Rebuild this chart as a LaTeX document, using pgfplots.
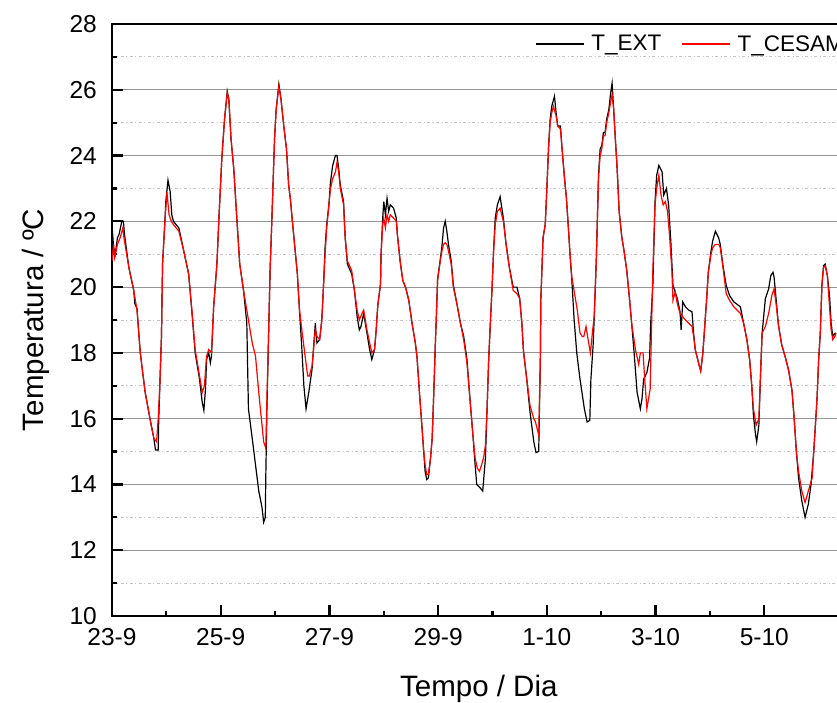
\documentclass[border=0pt]{standalone}
\usepackage{pgfplots}
\pgfplotsset{compat=1.18}
\usepackage{fontspec}
\setmainfont{Liberation Sans}
\definecolor{majgrid}{RGB}{150,150,150}
\definecolor{mingrid}{RGB}{195,195,195}
\begin{document}
\begin{tikzpicture}
\begin{axis}[
  at={(0pt,0pt)}, anchor=south west,
  scale only axis, width=761pt, height=592pt,
  xmin=0, xmax=14, ymin=10, ymax=28,
  xtick={0,2,...,12},
  xticklabels={23-9,25-9,27-9,29-9,1-10,3-10,5-10},
  minor x tick num=1,
  ytick={10,12,...,28},
  minor y tick num=1,
  tick pos=left,
  tick align=inside,
  major tick length=11pt, minor tick length=5.5pt,
  major tick style={black, line width=2.2pt},
  minor tick style={black, line width=2.2pt},
  axis line style={black, line width=2.7pt},
  ymajorgrids, yminorgrids,
  major grid style={majgrid, line width=1.2pt, solid},
  minor grid style={mingrid, line width=1pt, dash pattern=on 3pt off 2.5pt on 1pt off 2.5pt},
  /pgf/number format/assume math mode=true,
  ticklabel style={font=\fontsize{24.5}{28}\selectfont, inner sep=0pt},
  xticklabel style={anchor=north, yshift=-12pt},
  yticklabel style={anchor=east, xshift=-15pt},
  xlabel={Tempo / Dia},
  ylabel={Temperatura / ºC},
  label style={font=\fontsize{29.5}{34}\selectfont},
  xlabel style={at={(axis description cs:0.482,0)}, anchor=base, yshift=-80pt},
  ylabel style={at={(axis description cs:-0.0894,0.5)}, anchor=base, rotate=0},
  legend columns=2,
  legend style={at={(axis description cs:0.5558,0.9662)}, anchor=west, draw=none, fill=none,
    inner sep=0pt, font=\fontsize{22.5}{26}\selectfont,
    nodes={inner sep=0pt},
    /tikz/every odd column/.style={column sep=7pt},
    /tikz/every even column/.style={column sep=20pt}},
  legend image code/.code={\draw[#1] (0pt,0pt) -- (48pt,0pt);},
]
\addplot[black, line width=1.2pt] coordinates {
(0,21.9)(0.03,21.2)(0.06,21.0)(0.10,21.5)(0.13,21.6)(0.18,22.0)(0.21,22.0)(0.23,21.6)
(0.31,20.6)(0.40,19.9)(0.42,19.5)(0.46,19.35)(0.52,18.0)(0.61,16.8)(0.71,15.9)(0.77,15.4)
(0.80,15.05)(0.85,15.05)(0.86,16.0)(0.88,17.0)(0.91,18.5)(0.93,20.7)(0.97,21.9)(0.99,22.6)
(1.03,23.25)(1.07,22.9)(1.10,22.2)(1.13,22.0)(1.23,21.8)(1.32,21.1)(1.41,20.4)(1.47,19.25)
(1.53,18.0)(1.61,17.2)(1.66,16.5)(1.69,16.25)(1.72,16.9)(1.74,17.8)(1.78,18.0)(1.81,17.7)
(1.83,17.9)(1.87,19.4)(1.93,20.7)(1.97,22.2)(2.02,23.9)(2.07,25.1)(2.12,25.95)(2.15,25.7)
(2.19,24.5)(2.24,23.6)(2.30,22.0)(2.35,20.7)(2.42,19.9)(2.48,18.9)(2.51,16.3)(2.58,15.4)
(2.61,15.0)(2.64,14.6)(2.70,13.8)(2.76,13.3)(2.79,12.85)(2.82,13.0)(2.83,14.3)(2.85,16.3)
(2.88,18.5)(2.91,20.6)(2.94,22.0)(2.99,24.5)(3.02,25.4)(3.07,26.17)(3.11,25.7)(3.16,24.9)
(3.21,24.2)(3.25,23.1)(3.28,22.7)(3.33,21.8)(3.37,21.1)(3.41,20.4)(3.45,19.25)(3.49,18.2)
(3.53,17.0)(3.57,16.3)(3.62,16.8)(3.68,17.5)(3.74,18.9)(3.77,18.3)(3.82,18.4)(3.86,19.0)
(3.89,20.0)(3.92,21.2)(3.95,21.9)(3.99,22.5)(4.02,23.2)(4.06,23.7)(4.11,24.0)(4.14,24.0)
(4.17,23.6)(4.20,23.1)(4.26,22.6)(4.29,21.5)(4.33,20.7)(4.41,20.4)(4.46,19.9)(4.51,19.1)
(4.55,18.7)(4.58,18.8)(4.63,19.2)(4.69,18.6)(4.74,18.1)(4.78,17.8)(4.83,18.1)(4.86,18.7)
(4.89,19.45)(4.94,20.1)(4.95,21.0)(4.98,22.1)(5.00,22.6)(5.03,22.2)(5.06,22.7)(5.09,22.3)
(5.12,22.5)(5.18,22.4)(5.23,22.1)(5.25,21.6)(5.30,20.8)(5.35,20.2)(5.40,20.0)(5.46,19.6)
(5.52,18.9)(5.58,18.3)(5.61,17.9)(5.66,16.7)(5.70,15.8)(5.73,15.1)(5.76,14.4)(5.79,14.15)
(5.82,14.2)(5.86,14.8)(5.89,15.4)(5.92,16.8)(5.95,18.35)(5.97,19.25)(5.99,20.25)(6.04,20.85)
(6.07,21.25)(6.10,21.8)(6.13,22.0)(6.16,21.7)(6.19,21.3)(6.24,20.8)(6.28,20.05)(6.35,19.45)
(6.41,18.9)(6.47,18.5)(6.53,17.8)(6.59,16.5)(6.64,15.5)(6.68,14.6)(6.71,14.0)(6.77,13.9)
(6.82,13.8)(6.87,14.8)(6.90,16.3)(6.93,17.8)(6.96,18.9)(6.99,19.9)(7.02,21.1)(7.05,22.1)
(7.09,22.5)(7.14,22.75)(7.20,22.1)(7.25,21.3)(7.31,20.6)(7.38,20.0)(7.45,20.0)(7.50,19.65)
(7.54,18.9)(7.57,18.05)(7.63,17.2)(7.69,16.2)(7.76,15.3)(7.80,14.97)(7.85,15.0)(7.88,17.8)
(7.89,19.65)(7.93,21.5)(7.97,21.9)(8.00,23.0)(8.03,24.2)(8.06,25.1)(8.09,25.5)(8.14,25.8)
(8.17,25.3)(8.20,24.9)(8.25,24.9)(8.28,24.2)(8.32,23.4)(8.36,22.7)(8.40,21.7)(8.43,20.9)
(8.46,20.2)(8.50,19.05)(8.55,18.0)(8.61,17.2)(8.69,16.3)(8.74,15.9)(8.79,15.95)(8.81,17.2)
(8.85,18.2)(8.87,19.0)(8.91,20.85)(8.95,23.4)(8.98,24.2)(9.01,24.3)(9.04,24.7)(9.07,24.7)
(9.10,25.1)(9.14,25.4)(9.17,25.85)(9.20,26.2)(9.23,25.4)(9.26,24.5)(9.29,23.7)(9.33,22.3)
(9.38,21.5)(9.42,21.1)(9.47,20.5)(9.52,19.65)(9.56,18.9)(9.61,17.9)(9.66,16.8)(9.72,16.3)
(9.75,16.6)(9.78,17.2)(9.84,17.4)(9.89,17.85)(9.91,18.9)(9.95,20.05)(9.99,22.6)(10.02,23.4)
(10.06,23.7)(10.12,23.5)(10.15,22.8)(10.20,23.0)(10.24,22.5)(10.28,21.4)(10.32,20.05)(10.36,19.85)
(10.40,19.65)(10.45,19.25)(10.47,18.7)(10.50,19.55)(10.55,19.4)(10.61,19.3)(10.67,19.25)(10.70,18.6)
(10.73,18.1)(10.79,17.7)(10.83,17.45)(10.87,18.0)(10.90,18.7)(10.94,19.65)(10.97,20.45)(11.02,21.1)
(11.05,21.4)(11.10,21.7)(11.16,21.5)(11.19,21.3)(11.24,20.65)(11.30,20.05)(11.36,19.75)(11.44,19.55)
(11.56,19.4)(11.62,18.9)(11.68,18.4)(11.73,17.8)(11.77,17.0)(11.80,16.1)(11.84,15.5)(11.86,15.3)
(11.90,15.8)(11.93,17.3)(11.96,18.6)(12.02,19.65)(12.08,19.95)(12.12,20.35)(12.16,20.45)(12.18,20.3)
(12.20,19.95)(12.26,18.85)(12.32,18.25)(12.39,17.85)(12.45,17.45)(12.51,16.85)(12.55,16.0)(12.59,15.0)
(12.63,14.2)(12.69,13.5)(12.75,13.0)(12.81,13.4)(12.86,14.0)(12.91,15.0)(12.94,15.8)(12.97,16.6)
(13.00,17.8)(13.03,18.6)(13.06,20.05)(13.09,20.65)(13.12,20.7)(13.16,20.35)(13.20,19.75)(13.23,18.9)
(13.26,18.5)(13.30,18.6)(13.32,18.6)
};
\addlegendentry{T\_EXT}
\addplot[red, line width=1.2pt] coordinates {
(0,20.8)(0.03,21.3)(0.05,20.9)(0.10,21.3)(0.15,21.5)(0.20,21.8)(0.22,21.5)(0.31,20.6)
(0.40,19.9)(0.46,19.3)(0.52,18.0)(0.61,16.8)(0.71,15.9)(0.77,15.4)(0.82,15.3)(0.85,16.0)
(0.88,17.0)(0.91,18.5)(0.93,20.7)(0.97,21.9)(1.01,22.9)(1.05,22.2)(1.09,22.0)(1.13,21.9)
(1.23,21.7)(1.32,21.1)(1.41,20.4)(1.47,19.3)(1.53,18.1)(1.61,17.3)(1.66,16.8)(1.70,17.0)
(1.74,17.9)(1.78,18.1)(1.83,18.0)(1.87,19.4)(1.93,20.7)(1.97,22.2)(2.02,23.9)(2.07,25.1)
(2.12,25.9)(2.15,25.7)(2.19,24.5)(2.24,23.6)(2.30,22.0)(2.35,20.7)(2.42,19.9)(2.48,19.3)
(2.58,18.3)(2.64,17.9)(2.70,16.8)(2.76,15.8)(2.79,15.3)(2.83,15.1)(2.85,16.6)(2.88,18.5)
(2.91,20.6)(2.94,22.0)(2.99,24.5)(3.02,25.4)(3.07,26.1)(3.11,25.7)(3.16,24.9)(3.21,24.2)
(3.25,23.1)(3.28,22.7)(3.33,21.8)(3.37,21.1)(3.41,20.4)(3.45,19.3)(3.50,18.6)(3.56,17.8)
(3.60,17.3)(3.63,17.3)(3.68,17.6)(3.74,18.7)(3.77,18.5)(3.82,18.4)(3.86,19.0)(3.89,20.0)
(3.92,21.0)(3.95,21.8)(4.02,23.0)(4.06,23.3)(4.11,23.5)(4.14,23.8)(4.17,23.5)(4.20,23.0)
(4.26,22.5)(4.29,21.5)(4.33,20.8)(4.41,20.5)(4.46,19.9)(4.51,19.3)(4.55,19.0)(4.60,19.2)
(4.63,19.3)(4.69,18.7)(4.74,18.3)(4.78,18.0)(4.83,18.1)(4.86,18.7)(4.89,19.45)(4.94,20.1)
(4.95,21.0)(4.98,21.9)(5.00,22.1)(5.03,21.8)(5.06,22.2)(5.09,22.0)(5.12,22.2)(5.18,22.1)
(5.23,22.0)(5.25,21.6)(5.30,20.8)(5.35,20.2)(5.40,20.0)(5.46,19.6)(5.52,18.9)(5.58,18.3)
(5.61,17.9)(5.66,16.7)(5.70,15.8)(5.73,15.1)(5.76,14.6)(5.79,14.3)(5.82,14.3)(5.86,14.8)
(5.89,15.4)(5.92,16.8)(5.95,18.35)(5.97,19.25)(5.99,20.2)(6.04,20.8)(6.07,21.1)(6.10,21.3)
(6.13,21.35)(6.16,21.3)(6.19,21.1)(6.24,20.7)(6.28,20.0)(6.35,19.45)(6.41,18.9)(6.47,18.4)
(6.53,17.7)(6.59,16.5)(6.64,15.5)(6.68,14.8)(6.72,14.5)(6.76,14.4)(6.80,14.6)(6.84,14.85)
(6.87,15.2)(6.90,16.3)(6.93,17.8)(6.96,18.9)(6.99,19.9)(7.02,21.1)(7.05,21.9)(7.09,22.3)
(7.14,22.4)(7.20,22.0)(7.25,21.3)(7.31,20.6)(7.38,19.9)(7.45,19.8)(7.50,19.65)(7.54,18.9)
(7.57,18.05)(7.63,17.2)(7.69,16.4)(7.76,16.0)(7.79,15.9)(7.85,15.5)(7.88,17.8)(7.89,19.65)
(7.93,21.5)(7.97,21.9)(8.00,23.0)(8.03,24.2)(8.06,25.0)(8.09,25.3)(8.12,25.5)(8.17,25.2)
(8.20,24.9)(8.25,24.8)(8.28,24.2)(8.32,23.4)(8.36,22.7)(8.40,21.7)(8.43,20.9)(8.46,20.3)
(8.50,19.9)(8.56,19.3)(8.61,18.6)(8.65,18.5)(8.68,18.5)(8.72,18.8)(8.75,18.5)(8.80,18.0)
(8.85,18.8)(8.87,19.1)(8.91,20.85)(8.95,23.3)(8.98,24.0)(9.01,24.2)(9.04,24.6)(9.07,24.6)
(9.10,25.0)(9.14,25.3)(9.17,25.6)(9.20,25.85)(9.23,25.4)(9.26,24.5)(9.29,23.7)(9.33,22.3)
(9.38,21.5)(9.42,21.1)(9.47,20.5)(9.52,19.65)(9.56,18.9)(9.63,18.1)(9.69,17.65)(9.72,18.0)
(9.77,18.0)(9.80,17.2)(9.84,16.3)(9.90,16.9)(9.95,20.5)(9.99,22.5)(10.02,23.0)(10.06,23.4)
(10.10,22.8)(10.14,22.5)(10.18,22.6)(10.22,22.3)(10.26,21.5)(10.30,20.5)(10.32,19.6)(10.36,19.85)
(10.40,19.5)(10.45,19.2)(10.50,19.1)(10.55,19.0)(10.61,18.9)(10.67,18.8)(10.70,18.5)(10.73,18.1)
(10.79,17.7)(10.83,17.45)(10.87,18.0)(10.90,18.7)(10.94,19.65)(10.97,20.45)(11.02,21.0)(11.05,21.2)
(11.10,21.3)(11.16,21.3)(11.19,21.2)(11.24,20.6)(11.30,19.8)(11.36,19.6)(11.44,19.4)(11.56,19.2)
(11.62,18.9)(11.68,18.4)(11.73,17.8)(11.77,17.0)(11.80,16.3)(11.85,15.8)(11.90,16.0)(11.93,17.3)
(11.96,18.6)(12.02,18.8)(12.08,19.2)(12.14,19.75)(12.18,19.95)(12.22,19.45)(12.26,18.85)(12.32,18.25)
(12.39,17.85)(12.45,17.45)(12.51,16.85)(12.55,16.0)(12.59,15.0)(12.63,14.4)(12.69,13.8)(12.75,13.45)
(12.81,13.8)(12.88,14.2)(12.91,15.0)(12.94,15.8)(12.97,16.6)(13.00,17.8)(13.03,18.6)(13.06,20.05)
(13.09,20.6)(13.12,20.65)(13.16,20.35)(13.20,19.4)(13.23,18.7)(13.26,18.4)(13.30,18.5)(13.32,18.6)
};
\addlegendentry{T\_CESAM}
\end{axis}
\pgfresetboundingbox
\useasboundingbox (-112pt,-86pt) rectangle (725pt,616pt);
\end{tikzpicture}
\end{document}
